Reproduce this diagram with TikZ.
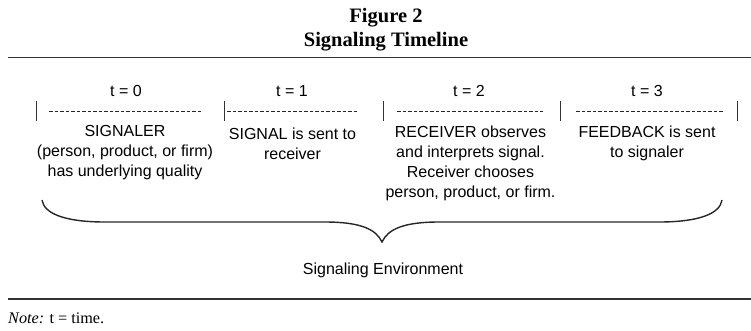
\documentclass[tikz,border=0pt]{standalone}
\usepackage{fontspec}
\setmainfont{Liberation Serif}
\newfontfamily\helv{Liberation Sans}
\begin{document}
\begin{tikzpicture}[x=1pt,y=-1pt,
  titletext/.style={font=\bfseries\fontsize{20.5}{24}\selectfont, inner sep=0, anchor=base},
  steplabel/.style={font=\helv\fontsize{16}{20}\selectfont, inner sep=0, anchor=base},
  coltext/.style={font=\helv\fontsize{16}{20}\selectfont, inner sep=0, align=center, anchor=north},
  notetext/.style={font=\fontsize{16.2}{19}\selectfont, inner sep=0, anchor=base west},
  tickline/.style={line width=1pt, draw=black!80},
  hyphenline/.style={line width=1.1pt, draw=black!85, dash pattern=on 3.8pt off 1.7pt},
  hrule/.style={line width=1.2pt, draw=black!80},
  bracecurve/.style={line width=1.4pt, draw=black!85}]
\useasboundingbox (0,0) rectangle (751,330);

% heading
\node[titletext] (fig) at (386,22.7) {Figure 2};
\node[titletext] (ttl) at (386,46.7) {Signaling Timeline};

% upper and lower rules
\coordinate (topL) at (8,57.5);
\coordinate (topR) at (751,57.5);
\coordinate (botL) at (8,299);
\coordinate (botR) at (751,299);
\draw[hrule] (topL) -- (topR);
\draw[hrule] (botL) -- (botR);

% time labels
\node[steplabel] (t0) at (126,96) {t = 0};
\node[steplabel] (t1) at (292,96) {t = 1};
\node[steplabel] (t2) at (469,96) {t = 2};
\node[steplabel] (t3) at (647,96) {t = 3};

% separators between the stages
\foreach \i/\x in {0/36,1/224,2/383,3/560,4/737}{
  \coordinate (tickA\i) at (\x,101);
  \coordinate (tickB\i) at (\x,121);
  \draw[tickline] (tickA\i) -- (tickB\i);
}

% hyphen rows under the labels
\foreach \i/\a/\b in {0/49/202,1/227/357,2/397/543,3/576/723}{
  \coordinate (hyA\i) at (\a,111.7);
  \coordinate (hyB\i) at (\b,111.7);
  \draw[hyphenline] (hyA\i) -- (hyB\i);
}

% stage descriptions
\node[coltext] (c0) at (125,125.5) {SIGNALER\\(person, product, or firm)\\has underlying quality};
\node[coltext] (c1) at (292.5,128) {SIGNAL is sent to\\receiver};
\node[coltext] (c2) at (470.5,125.5) {RECEIVER observes\\and interprets signal.\\Receiver chooses\\person, product, or firm.};
\node[coltext] (c3) at (647,125.5) {FEEDBACK is sent\\to signaler};

% brace spanning all stages
\coordinate (brL) at (42,200);
\coordinate (brM) at (382,242);
\coordinate (brR) at (722,200);
\draw[bracecurve] (brL) .. controls (44,214) and (66,222) .. (105,222)
  -- (325,222) .. controls (360,222) and (376,229) .. (brM)
  .. controls (388,229) and (404,222) .. (439,222)
  -- (659,222) .. controls (698,222) and (720,214) .. (brR);

\node[steplabel] (env) at (383,274) {Signaling Environment};

% note
\node[notetext] (note) at (8,323) {\textit{Note:} t = time.};
\end{tikzpicture}
\end{document}
